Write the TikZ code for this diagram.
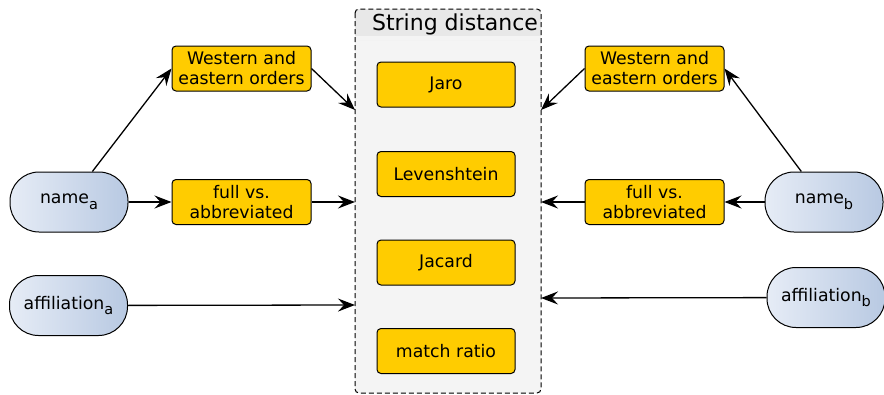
\documentclass[tikz,border=0pt]{standalone}
\usepackage{fontspec}
\setmainfont{DejaVu Sans}
\usetikzlibrary{positioning, arrows.meta, calc}

\definecolor{boxgold}{HTML}{FFCC00}
\definecolor{pillL}{HTML}{E6ECF6}
\definecolor{pillR}{HTML}{B8C9E2}
\definecolor{sdbody}{HTML}{F4F4F4}
\definecolor{sdhead}{HTML}{E8E8E8}

\newcommand{\sub}[1]{\raisebox{-0.6ex}{\fontsize{14.5}{14.5}\selectfont #1}}

\tikzset{
  base/.style={font=\fontsize{17.3}{20}\selectfont, align=center, inner sep=0pt},
  featbox/.style={base, draw, line width=1pt, fill=boxgold, rounded corners=4pt,
                  minimum width=139pt, minimum height=45pt},
  metricbox/.style={base, draw, line width=1pt, fill=boxgold, rounded corners=4pt,
                    minimum width=138pt, minimum height=45pt},
  pillshape/.style={rounded corners=29pt, left color=pillL, right color=pillR,
                    minimum width=118pt, minimum height=60pt},
  field/.style={base, draw, line width=1pt, pillshape},
  link/.style={line width=1.3pt, -{Stealth[length=17pt, width=13pt, inset=6pt]}}
}

\begin{document}
\begin{tikzpicture}[x=1pt, y=-1pt]
\useasboundingbox (0,0) rectangle (884,394);

% string distance container
\fill[sdbody, rounded corners=4pt] (355,9) rectangle (541,393);
\fill[sdhead, rounded corners=4pt] (355,9) rectangle (541,40);
\fill[sdbody] (355,36) rectangle (541,40);
\draw[line width=1pt, rounded corners=4pt, dash pattern=on 5pt off 3pt]
  (355,9) rectangle (541,393);
\node[base, font=\fontsize{22}{24}\selectfont] (sdtitle) at (455,24) {String distance};

\node[metricbox] (jaro) at (446,84.5) {Jaro};
\node[metricbox] (leven) at (446,174) {Levenshtein};
\node[metricbox] (jacard) at (446,262.5) {Jacard};
\node[metricbox] (match) at (446,351) {match ratio};

% entry points on the container
\coordinate (inWa) at (355,110);
\coordinate (inFa) at (355,202);
\coordinate (inAa) at (355,305);
\coordinate (inWb) at (541,110);
\coordinate (inFb) at (541,202);
\coordinate (inAb) at (541,298);

% side a
\node[field] (namea) at (69,202) {name\sub{a}};
\node[field] (affa) at (68.5,305.5) {affiliation\sub{a}};
\node[featbox] (orda) at (241.5,68.5) {Western and\\eastern orders};
\node[featbox] (abba) at (241.5,202) {full vs.\\abbreviated};

% side b
\node[field] (nameb) at (824,202) {name\sub{b}};
\node[field] (affb) at (826,297.5) {affiliation\sub{b}};
\node[featbox] (ordb) at (654.5,68.5) {Western and\\eastern orders};
\node[featbox] (abbb) at (654.5,202) {full vs.\\abbreviated};

\draw[link] (namea) -- (orda.west);
\draw[link] (namea) -- (abba);
\draw[link] (orda.east) -- (inWa);
\draw[link] (abba) -- (inFa);
\draw[link] (affa) -- (inAa);

\draw[link] (nameb) -- (ordb.east);
\draw[link] (nameb) -- (abbb);
\draw[link] (ordb.west) -- (inWb);
\draw[link] (abbb) -- (inFb);
\draw[link] (affb) -- (inAb);
\end{tikzpicture}
\end{document}
